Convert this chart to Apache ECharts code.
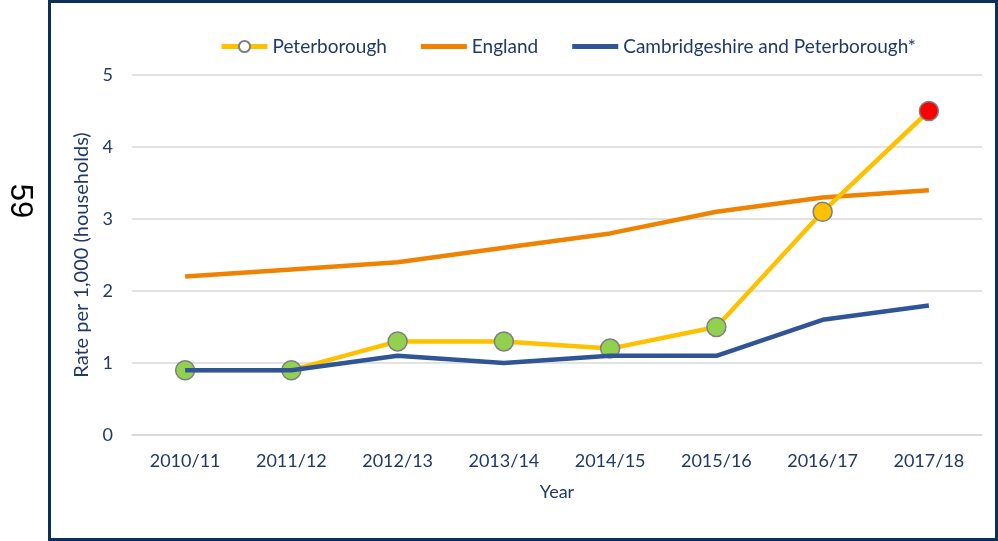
<!DOCTYPE html>
<html>
<head>
<meta charset="utf-8">
<script src="https://cdn.jsdelivr.net/npm/echarts@6/dist/echarts.min.js"></script>
<style>
  html, body { margin: 0; padding: 0; background: #fff; }
  #chart { width: 998px; height: 541px; }
</style>
</head>
<body>
<div id="chart"></div>
<script>
var years = ['2010/11', '2011/12', '2012/13', '2013/14', '2014/15', '2015/16', '2016/17', '2017/18'];
var peterborough = [0.9, 0.9, 1.3, 1.3, 1.2, 1.5, 3.1, 4.5];
var england = [2.2, 2.3, 2.4, 2.6, 2.8, 3.1, 3.3, 3.4];
var cambsPeterborough = [0.9, 0.9, 1.1, 1.0, 1.1, 1.1, 1.6, 1.8];
// marker fill per point (green, then amber and red for the last two years)
var pointColours = ['#92D050', '#92D050', '#92D050', '#92D050', '#92D050', '#92D050', '#FFC000', '#FF0000'];

var textColour = '#1F3A68';
var font = 'Lato';
// plain line icon for the series without markers
var lineIcon = 'path://M0,0 L46,0 L46,5 L0,5 Z';

var myChart = echarts.init(document.getElementById('chart'));

var option = {
  animation: false,
  backgroundColor: '#fff',
  textStyle: { fontFamily: font },
  graphic: [
    {
      type: 'rect',
      shape: { x: 49.5, y: 1.5, width: 947, height: 538 },
      style: { fill: 'none', stroke: '#0B2E5B', lineWidth: 3 }
    },
    {
      type: 'text',
      x: 20, y: 201,
      rotation: -Math.PI / 2,
      style: {
        text: '59', fill: '#000',
        font: '31px "Liberation Sans"',
        textAlign: 'center', textVerticalAlign: 'middle'
      }
    }
  ],
  legend: {
    left: 219,
    top: 37,
    padding: 0,
    itemWidth: 46,
    itemHeight: 14,
    itemGap: 34,
    lineStyle: { width: 5 },
    textStyle: { color: textColour, fontSize: 19, fontFamily: font },
    data: [
      { name: 'Peterborough', itemStyle: { color: '#FFFFFF', borderColor: '#7F7F7F', borderWidth: 2 } },
      { name: 'England', icon: lineIcon },
      { name: 'Cambridgeshire and Peterborough*', icon: lineIcon }
    ]
  },
  grid: { left: 132, right: 16, top: 75, bottom: 106 },
  xAxis: {
    type: 'category',
    data: years,
    boundaryGap: true,
    name: 'Year',
    nameLocation: 'middle',
    nameGap: 48,
    nameTextStyle: { color: textColour, fontSize: 18 },
    axisLine: { show: true, lineStyle: { color: '#D9D9D9', width: 1.5 } },
    axisTick: { show: false },
    axisLabel: { color: textColour, fontSize: 18, margin: 17 }
  },
  yAxis: {
    type: 'value',
    min: 0, max: 5, interval: 1,
    name: 'Rate per 1,000 (households)',
    nameLocation: 'middle',
    nameRotate: 90,
    nameGap: 33,
    nameTextStyle: { color: textColour, fontSize: 20 },
    axisLine: { show: false },
    axisTick: { show: false },
    axisLabel: { color: textColour, fontSize: 18, margin: 19 },
    splitLine: { lineStyle: { color: '#D9D9D9', width: 1.5 } }
  },
  series: [
    {
      name: 'Peterborough',
      type: 'line',
      z: 3,
      symbol: 'circle',
      symbolSize: 19,
      lineStyle: { color: '#FFC000', width: 4.5 },
      itemStyle: { color: '#92D050', borderColor: '#7F7F7F', borderWidth: 1.5 },
      data: peterborough.map(function (v, i) {
        return { value: v, itemStyle: { color: pointColours[i] } };
      })
    },
    {
      name: 'England',
      type: 'line',
      z: 2,
      symbol: 'none',
      lineStyle: { color: '#EF8200', width: 4.5 },
      itemStyle: { color: '#EF8200' },
      data: england
    },
    {
      name: 'Cambridgeshire and Peterborough*',
      type: 'line',
      z: 4,
      symbol: 'none',
      lineStyle: { color: '#2F5597', width: 4.5 },
      itemStyle: { color: '#2F5597' },
      data: cambsPeterborough
    }
  ]
};

myChart.setOption(option);
</script>
</body>
</html>
